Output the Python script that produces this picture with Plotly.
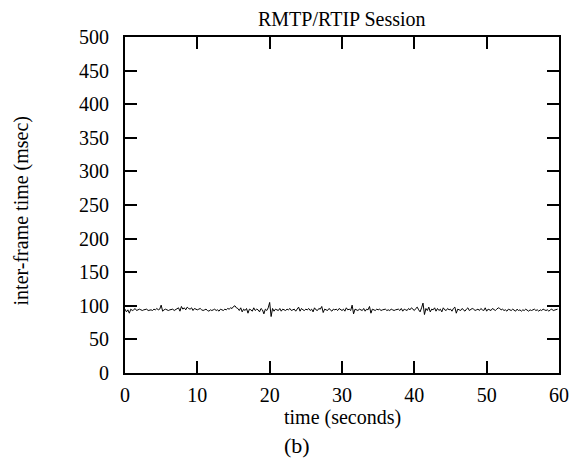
import plotly.graph_objects as go

# inter-frame times (msec), one sample every 0.2 s
interframe_ms = [
    95, 91, 94, 89, 95, 93, 94, 96, 93, 94, 95, 94, 93, 94, 94, 95, 93, 94, 94, 93, 95, 94, 96, 94, 95,
    101, 92, 94, 95, 94, 93, 94, 94, 95, 93, 94, 96, 97, 92, 99, 95, 97, 94, 98, 96, 95, 97, 93, 96, 95,
    94, 95, 96, 94, 93, 94, 95, 93, 92, 94, 93, 94, 95, 93, 94, 92, 95, 94, 93, 95, 94, 96, 95, 97, 96,
    99, 100, 97, 96, 93, 97, 91, 95, 93, 96, 89, 95, 94, 92, 97, 93, 95, 94, 91, 96, 94, 88, 95, 93, 97,
    105, 84, 96, 92, 95, 94, 93, 96, 92, 95, 94, 93, 95, 94, 96, 93, 94, 95, 92, 95, 98, 92, 96, 94, 93,
    95, 94, 96, 93, 95, 91, 97, 94, 93, 96, 95, 99, 90, 95, 94, 93, 96, 94, 92, 95, 94, 95, 93, 96, 94,
    93, 95, 92, 97, 94, 95, 93, 101, 88, 95, 94, 93, 95, 94, 93, 96, 92, 95, 94, 99, 89, 95, 94, 93, 95,
    94, 95, 93, 94, 94, 95, 93, 94, 93, 95, 94, 93, 94, 94, 95, 93, 96, 92, 95, 94, 93, 96, 94, 97, 95,
    93, 96, 98, 94, 91, 97, 104, 87, 96, 93, 98, 91, 95, 94, 97, 92, 96, 93, 95, 91, 97, 94, 93, 96, 94,
    95, 92, 96, 98, 89, 95, 94, 93, 96, 94, 92, 95, 97, 93, 94, 96, 95, 93, 94, 95, 93, 96, 94, 93, 97,
    92, 95, 94, 93, 96, 94, 93, 95, 97, 96, 94, 95, 93, 94, 92, 95, 94, 93, 95, 94, 92, 95, 93, 94, 92,
    94, 93, 95, 94, 92, 94, 93, 94, 95, 93, 94, 92, 94, 93, 95, 94, 93, 94, 92, 94, 95, 93, 94, 95, 95,
]
sample_step = 0.2
times = [i * sample_step for i in range(len(interframe_ms))]

x_ticks = [0, 10, 20, 30, 40, 50, 60]
y_ticks = [0, 50, 100, 150, 200, 250, 300, 350, 400, 450, 500]

FONT = "Liberation Serif, Times New Roman, serif"
PAGE_OFFSET = 8  # default body margin of the html page

# plot box in window pixels
box_l, box_r, box_t, box_b = 125, 561, 37, 373
box_w, box_h = box_r - box_l, box_b - box_t

fig = go.Figure(go.Scatter(
    x=times, y=interframe_ms, mode="lines",
    line=dict(color="black", width=1),
    showlegend=False,
))

axis_style = dict(
    showline=True, linecolor="black", linewidth=2, mirror="ticks",
    ticks="inside", ticklen=12, tickwidth=2, tickcolor="black",
    showgrid=False, zeroline=False,
    tickfont=dict(family=FONT, size=20, color="black"),
)

W, H = 581 - PAGE_OFFSET, 466 - PAGE_OFFSET
fig.update_layout(
    width=W, height=H,
    plot_bgcolor="white", paper_bgcolor="white",
    margin=dict(t=box_t - PAGE_OFFSET, l=box_l - PAGE_OFFSET,
                r=W - (box_r - PAGE_OFFSET), b=H - (box_b - PAGE_OFFSET), pad=0),
    xaxis=dict(range=[0, 60], tickvals=x_ticks, ticklabelstandoff=3, **axis_style),
    yaxis=dict(range=[0, 500], tickvals=y_ticks, ticklabelstandoff=10, **axis_style),
)

fig.add_annotation(text="RMTP/RTIP Session", xref="paper", yref="paper",
                   x=0.5, y=(box_b - 19) / box_h, xanchor="center", yanchor="middle",
                   showarrow=False, font=dict(family=FONT, size=20, color="black"))
fig.add_annotation(text="time (seconds)", xref="paper", yref="paper",
                   x=0.5, y=(box_b - 417) / box_h, xanchor="center", yanchor="middle",
                   showarrow=False, font=dict(family=FONT, size=20, color="black"))
fig.add_annotation(text="(b)", xref="paper", yref="paper",
                   x=(298 - box_l) / box_w, y=(box_b - 446) / box_h,
                   xanchor="center", yanchor="middle",
                   showarrow=False, font=dict(family=FONT, size=22, color="black"))
fig.add_annotation(text="inter-frame time (msec)", xref="paper", yref="paper",
                   x=(22 - box_l) / box_w, y=(box_b - 210) / box_h,
                   xanchor="center", yanchor="middle",
                   textangle=-90, showarrow=False,
                   font=dict(family=FONT, size=20, color="black"))

fig.write_html("out.html")
